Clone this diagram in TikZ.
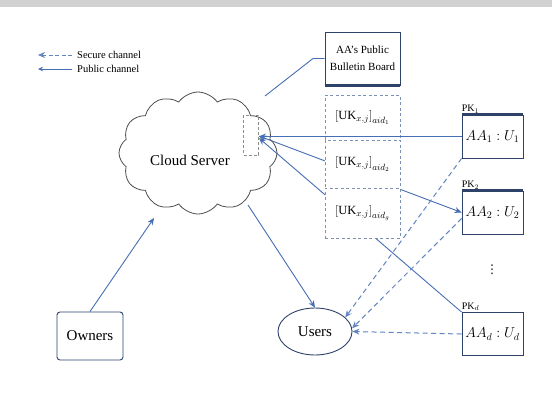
\documentclass[tikz,border=0pt]{standalone}
\usepackage{fontspec}
\setmainfont{Liberation Serif}
\newfontfamily\dejavu{DejaVu Sans}
\usetikzlibrary{shapes.symbols,shapes.geometric,arrows.meta,backgrounds}
\definecolor{lineblue}{RGB}{70,110,180}
\definecolor{navy}{RGB}{45,65,105}
\definecolor{grayblue}{RGB}{125,145,180}
\begin{document}
\begin{tikzpicture}[x=1pt,y=-1pt,
  lnk/.style={draw=lineblue, line width=0.9pt},
  arr/.style={lnk, -{Stealth[length=7pt,width=6pt]}},
  sec/.style={draw=lineblue!85, line width=1pt, dash pattern=on 5pt off 3.5pt, -{Stealth[length=7pt,width=6pt]}},
  aabox/.style={draw=navy, line width=0.8pt, fill=white, minimum width=61pt, minimum height=43pt, inner sep=1pt, font=\fontsize{14}{16}\selectfont},
  bar/.style={draw=navy, line width=2.6pt},
  rowbox/.style={draw=grayblue, dash pattern=on 3pt off 2.5pt, line width=0.9pt, fill=white, minimum width=75pt, inner sep=1pt, font=\fontsize{12.5}{14}\selectfont},
  pk/.style={font=\fontsize{10}{12}\selectfont, inner sep=1pt, anchor=south west},
  lbl/.style={font=\fontsize{15}{17}\selectfont},
  legend/.style={font=\fontsize{10.5}{12}\selectfont, anchor=west, inner sep=1pt}
]
\useasboundingbox (0,0) rectangle (552,394);
\begin{pgfonlayer}{background}
\fill[white] (0,0) rectangle (552,394);
\fill[black!18] (0,0) rectangle (552,7);
\end{pgfonlayer}

% legend
\node[legend] (lt1) at (76,55) {Secure channel};
\node[legend] (lt2) at (76,69) {Public channel};
\coordinate (le1) at (38,55);
\coordinate (le2) at (38,69);
\draw[sec, dash pattern=on 4pt off 2.5pt] ([xshift=-4pt]lt1.west) -- (le1);
\draw[arr, -{Stealth[length=5pt,width=4.5pt]}] ([xshift=-4pt]lt2.west) -- (le2);

% cloud
\node[cloud, cloud puffs=12, cloud puff arc=110, cloud ignores aspect, draw=black!70, line width=0.8pt, minimum width=158pt, minimum height=122pt] (cloud) at (198,153) {};
\node[lbl] (cs) at (190,160) {Cloud Server};
\node[draw=black!45, dash pattern=on 3pt off 2pt, line width=0.8pt, minimum width=15pt, minimum height=40pt, inner sep=0pt] (csr) at (251,135) {};

% bulletin board
\node[draw=navy, line width=0.8pt, minimum width=75pt, minimum height=53pt, align=center, inner sep=1pt, font=\fontsize{11}{17}\selectfont] (bb) at (362.5,58.5) {AA's Public\\Bulletin Board};
\draw[bar] (bb.south west) -- (bb.south east);

% rows
\node[rowbox, minimum height=45pt] (r1) at (362.5,117.5) {$\left[\mathrm{UK}_{x,j}\right]_{aid_1}$};
\node[rowbox, minimum height=48pt] (r2) at (362.5,164) {$\left[\mathrm{UK}_{x,j}\right]_{aid_2}$};
\node[rowbox, minimum height=50pt] (r3) at (362.5,213) {$\left[\mathrm{UK}_{x,j}\right]_{aid_g}$};

% AA boxes
\node[aabox] (aa1) at (492.5,136.5) {$AA_1:U_1$};
\node[aabox] (aa2) at (492.5,212.5) {$AA_2:U_2$};
\node[aabox] (aad) at (492.5,334) {$AA_d:U_d$};
\draw[bar] (aa1.north west) -- (aa1.north east);
\draw[bar] (aa2.north west) -- (aa2.north east);
\node[pk] (pk1) at ([xshift=-1pt]aa1.north west) {PK$_1$};
\node[pk] (pk2) at ([xshift=-1pt]aa2.north west) {PK$_2$};
\node[pk] (pkd) at ([xshift=-1pt]aad.north west) {PK$_d$};
\node[font=\dejavu\fontsize{12}{14}\selectfont] (vd) at (492,270) {⋮};

% users and owners
\node[ellipse, draw=navy, line width=0.9pt, minimum width=74pt, minimum height=47pt, lbl] (usr) at (315,331.5) {Users};
\node[draw=navy, line width=0.9pt, rounded corners=3pt, minimum width=66pt, minimum height=48pt, lbl] (own) at (90,336) {Owners};

% connectors
\coordinate (cin) at (154,218);
\coordinate (cout) at (248,205);
\coordinate (cbb) at (265,96);
\coordinate (bend) at (313,58.5);
\draw[arr] (own.north) -- (cin);
\draw[arr] (cout) -- (usr.north);
\draw[lnk] (cbb) -- (bend) -- (bb.west);
\draw[arr] (aa1.west) -- (csr.east |- aa1.west);
\begin{pgfonlayer}{background}
\draw[arr, {Stealth[length=7pt,width=6pt]}-{Stealth[length=7pt,width=6pt]}] (aa2.west) -- ([yshift=-1pt]csr.east);
\draw[arr] (aad.north west) -- ([yshift=-3pt]csr.east);
\end{pgfonlayer}
\draw[sec] (aa1.south west) -- (usr.25);
\draw[sec] ([yshift=-6pt]aa2.west) -- (usr.5);
\draw[sec] (aad.west) -- (usr.east);
\end{tikzpicture}
\end{document}
